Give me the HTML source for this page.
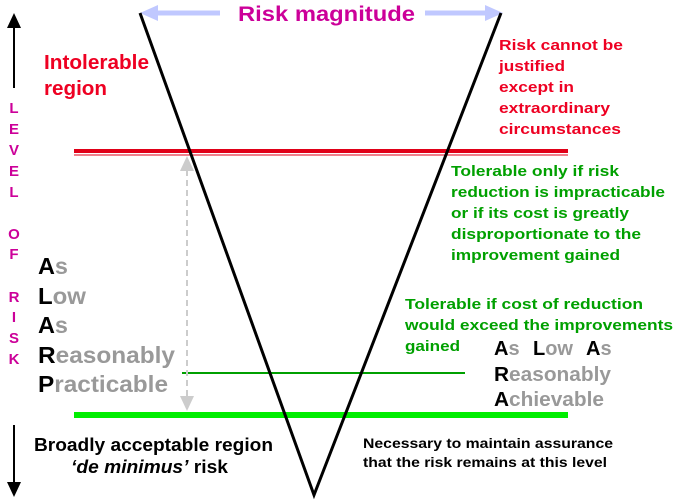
<!DOCTYPE html>
<html><head><meta charset="utf-8"><style>
html,body{margin:0;padding:0;background:#fff;}
svg{display:block;font-family:"Liberation Sans",sans-serif;font-weight:bold;}
</style></head><body>
<svg width="680" height="503" viewBox="0 0 680 503" xmlns="http://www.w3.org/2000/svg">
<line x1="155" y1="13" x2="220" y2="13" stroke="#c0c8ff" stroke-width="5"/>
<polygon points="140,13 158,5 158,21" fill="#c0c8ff"/>
<line x1="425" y1="13" x2="488" y2="13" stroke="#c0c8ff" stroke-width="5"/>
<polygon points="503,13 485,5 485,21" fill="#c0c8ff"/>
<text x="238" y="21" font-size="21" fill="#cc0099" textLength="177" lengthAdjust="spacingAndGlyphs">Risk magnitude</text>
<line x1="74" y1="151" x2="568" y2="151" stroke="#e00018" stroke-width="4"/>
<line x1="74" y1="155" x2="568" y2="155" stroke="#e00018" stroke-width="1"/>
<line x1="182" y1="373" x2="465" y2="373" stroke="#00a000" stroke-width="2"/>
<line x1="74" y1="415" x2="568" y2="415" stroke="#00ee00" stroke-width="6"/>
<line x1="187" y1="170" x2="187" y2="400" stroke="#cccccc" stroke-width="2" stroke-dasharray="6,4"/>
<polygon points="187,156 180,171 194,171" fill="#cccccc"/>
<polygon points="187,411 180,396 194,396" fill="#cccccc"/>
<polyline points="140,13 314,495 501,13" fill="none" stroke="#000" stroke-width="3"/>
<line x1="14" y1="25" x2="14" y2="88" stroke="#000" stroke-width="2"/>
<polygon points="14,13 7,28 21,28" fill="#000"/>
<line x1="14" y1="425" x2="14" y2="483" stroke="#000" stroke-width="2"/>
<polygon points="14,497 7,482 21,482" fill="#000"/>
<g font-size="15" fill="#cc0099" text-anchor="middle">
<text x="14" y="113">L</text><text x="14" y="134">E</text><text x="14" y="155">V</text><text x="14" y="176">E</text><text x="14" y="197">L</text>
<text x="14" y="239">O</text><text x="14" y="259">F</text>
<text x="14" y="302">R</text><text x="14" y="322">I</text><text x="14" y="343">S</text><text x="14" y="364">K</text>
</g>
<g font-size="20" fill="#ee0022">
<text x="44" y="69" textLength="105" lengthAdjust="spacingAndGlyphs">Intolerable</text>
<text x="44" y="95" textLength="63" lengthAdjust="spacingAndGlyphs">region</text>
</g>
<g font-size="15" fill="#ee0022">
<text x="499" y="50" textLength="124" lengthAdjust="spacingAndGlyphs">Risk cannot be</text>
<text x="499" y="71" textLength="66" lengthAdjust="spacingAndGlyphs">justified</text>
<text x="499" y="92" textLength="75" lengthAdjust="spacingAndGlyphs">except in</text>
<text x="499" y="113" textLength="111" lengthAdjust="spacingAndGlyphs">extraordinary</text>
<text x="499" y="134" textLength="122" lengthAdjust="spacingAndGlyphs">circumstances</text>
</g>
<g font-size="15" fill="#00a000">
<text x="451" y="176" textLength="168" lengthAdjust="spacingAndGlyphs">Tolerable only if risk</text>
<text x="451" y="197" textLength="214" lengthAdjust="spacingAndGlyphs">reduction is impracticable</text>
<text x="451" y="218" textLength="178" lengthAdjust="spacingAndGlyphs">or if its cost is greatly</text>
<text x="451" y="239" textLength="190" lengthAdjust="spacingAndGlyphs">disproportionate to the</text>
<text x="451" y="260" textLength="169" lengthAdjust="spacingAndGlyphs">improvement gained</text>
<text x="405" y="309" textLength="238" lengthAdjust="spacingAndGlyphs">Tolerable if cost of reduction</text>
<text x="405" y="330" textLength="268" lengthAdjust="spacingAndGlyphs">would exceed the improvements</text>
<text x="405" y="351" textLength="55" lengthAdjust="spacingAndGlyphs">gained</text>
</g>
<g font-size="23" fill="#999">
<text x="38" y="274" textLength="30" lengthAdjust="spacingAndGlyphs"><tspan fill="#000">A</tspan>s</text>
<text x="38" y="304" textLength="48" lengthAdjust="spacingAndGlyphs"><tspan fill="#000">L</tspan>ow</text>
<text x="38" y="333" textLength="30" lengthAdjust="spacingAndGlyphs"><tspan fill="#000">A</tspan>s</text>
<text x="38" y="363" textLength="137" lengthAdjust="spacingAndGlyphs"><tspan fill="#000">R</tspan>easonably</text>
<text x="38" y="392" textLength="130" lengthAdjust="spacingAndGlyphs"><tspan fill="#000">P</tspan>racticable</text>
</g>
<g font-size="20" fill="#999">
<text x="494" y="355" fill="#000">A<tspan fill="#999">s</tspan></text>
<text x="533" y="355" fill="#000">L<tspan fill="#999">ow</tspan></text>
<text x="586" y="355" fill="#000">A<tspan fill="#999">s</tspan></text>
<text x="494" y="381" textLength="117" lengthAdjust="spacingAndGlyphs"><tspan fill="#000">R</tspan>easonably</text>
<text x="494" y="406" textLength="110" lengthAdjust="spacingAndGlyphs"><tspan fill="#000">A</tspan>chievable</text>
</g>
<text x="34" y="451" font-size="18" fill="#000" textLength="239" lengthAdjust="spacingAndGlyphs">Broadly acceptable region</text>
<text x="71" y="473" font-size="18" fill="#000" textLength="157" lengthAdjust="spacingAndGlyphs"><tspan font-style="italic">‘de minimus’</tspan> risk</text>
<g font-size="14" fill="#000">
<text x="363" y="448" textLength="250" lengthAdjust="spacingAndGlyphs">Necessary to maintain assurance</text>
<text x="363" y="467" textLength="244" lengthAdjust="spacingAndGlyphs">that the risk remains at this level</text>
</g>
</svg>
</body></html>
